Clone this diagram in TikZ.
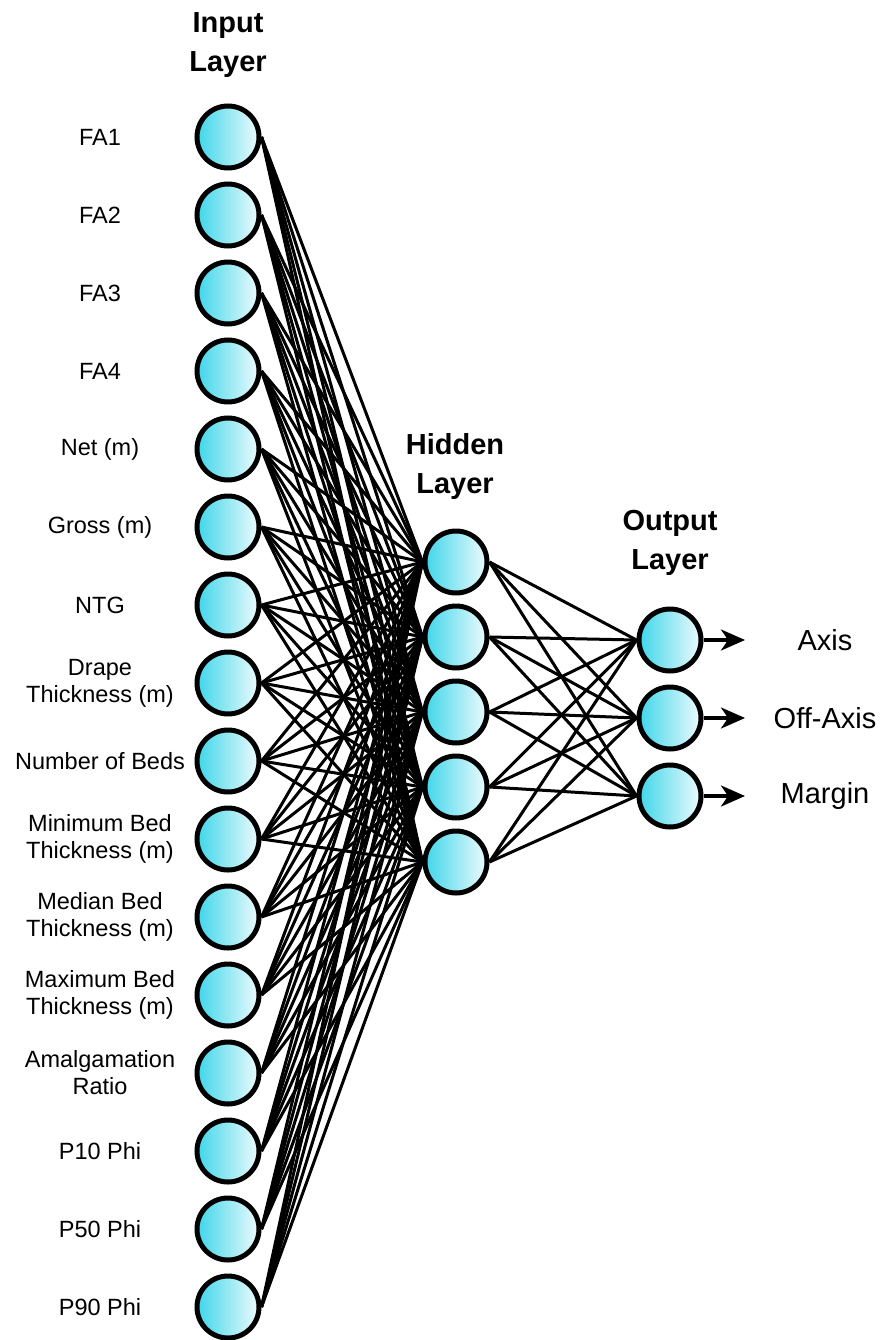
\documentclass[tikz,border=0pt]{standalone}
\usepackage{fontspec}
\setmainfont{Liberation Sans}
\usetikzlibrary{arrows.meta,backgrounds}
\definecolor{nodeL}{HTML}{3FD6EA}
\definecolor{nodeR}{HTML}{EEFBFD}
\tikzset{
  neuron/.style={circle, draw=black, line width=5pt, minimum size=62pt, inner sep=0pt, left color=nodeL, right color=nodeR},
  inlabel/.style={align=center, font=\fontsize{23.5}{27}\selectfont, inner sep=0pt},
  title/.style={align=center, font=\fontsize{29}{39}\selectfont\bfseries, inner sep=0pt},
  outlabel/.style={font=\fontsize{29}{34}\selectfont, inner sep=0pt},
  conn/.style={line width=3pt, black},
  outarrow/.style={line width=3.2pt, -{Stealth[length=24pt,width=21pt,inset=7pt]}}
}
\begin{document}
\begin{tikzpicture}[x=1pt,y=-1pt]
\useasboundingbox (0,0) rectangle (885,1340);
% titles
\node[title] (tin) at (228,45) {Input\\Layer};
\node[title] (thid) at (455,466) {Hidden\\Layer};
\node[title] (tout) at (670,543) {Output\\Layer};
% input nodes and labels
\foreach \k/\lab in {1/FA1,2/FA2,3/FA3,4/FA4,5/Net (m),6/Gross (m),7/NTG,8/{Drape\\Thickness (m)},9/Number of Beds,10/{Minimum Bed\\Thickness (m)},11/{Median Bed\\Thickness (m)},12/{Maximum Bed\\Thickness (m)},13/{Amalgamation\\Ratio},14/P10 Phi,15/P50 Phi,16/P90 Phi}{
  \node[neuron] (i\k) at (228,{137+78*(\k-1)}) {};
  \node[inlabel] (l\k) at (100,{137+78*(\k-1)}) {\lab};
}
% hidden nodes
\foreach \k in {1,...,5}{
  \node[neuron] (h\k) at (456,{562+75*(\k-1)}) {};
}
% output nodes
\node[neuron] (o1) at (670,640) {};
\node[neuron] (o2) at (670,718) {};
\node[neuron] (o3) at (670,796) {};
% output labels
\node[outlabel] (a1) at (825,640) {Axis};
\node[outlabel] (a2) at (825,718) {Off-Axis};
\node[outlabel] (a3) at (825,796) {Margin};
\coordinate (e1) at (745,640);
\coordinate (e2) at (745,718);
\coordinate (e3) at (745,796);
\begin{scope}[on background layer]
\foreach \a in {1,...,16}{
  \foreach \b in {1,...,5}{
    \draw[conn] (i\a.east) -- (h\b.west);
  }
}
\foreach \a in {1,...,5}{
  \foreach \b in {1,2,3}{
    \draw[conn] (h\a.east) -- (o\b.west);
  }
}
\end{scope}
\foreach \b in {1,2,3}{
  \draw[outarrow] (o\b.east) -- (e\b);
}
\end{tikzpicture}
\end{document}
